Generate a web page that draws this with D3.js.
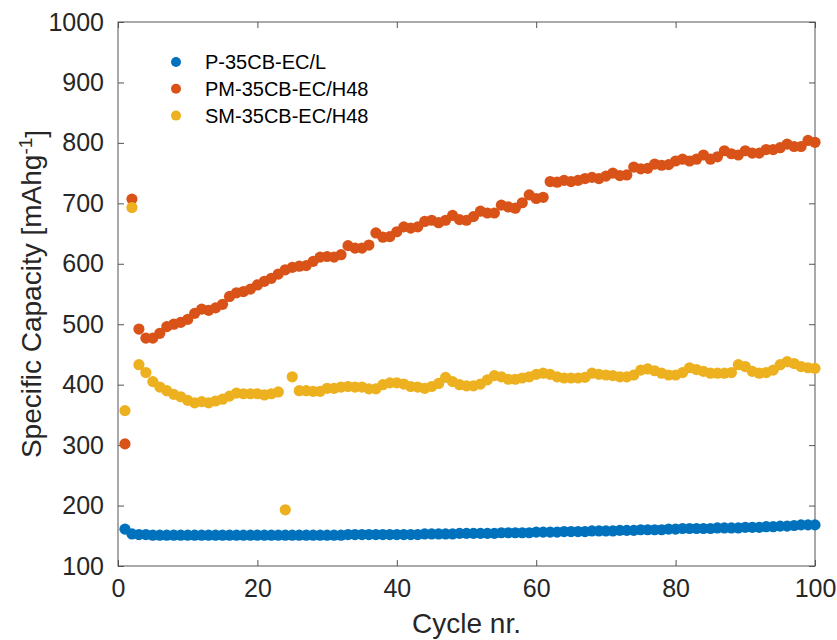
<!DOCTYPE html>
<html>
<head>
<meta charset="utf-8">
<script src="https://cdn.jsdelivr.net/npm/d3@7"></script>
<style>
  body { margin: 0; background: #fff; }
  svg { display: block; font-family: "Liberation Sans", Arial, sans-serif; }
</style>
</head>
<body>
<script>
// cycle numbers 1..100
const cycles = d3.range(1, 101);

const seriesNames = ['P-35CB-EC/L', 'PM-35CB-EC/H48', 'SM-35CB-EC/H48'];
const seriesColors = ['#0072BD', '#D95319', '#EDB120'];

const capP = [
  161, 153, 152, 152, 151, 151, 151, 151, 151, 151,
  151, 151, 151, 151, 151, 151, 151, 151, 151, 151,
  151, 151, 151, 151, 151, 151, 151, 151, 151, 151,
  151, 151, 152, 152, 152, 152, 152, 152, 152, 152,
  152, 152, 152, 153, 153, 153, 153, 153, 154, 154,
  154, 154, 154, 154, 155, 155, 155, 155, 155, 156,
  156, 156, 156, 157, 157, 157, 157, 158, 158, 158,
  158, 159, 159, 159, 160, 160, 160, 160, 161, 161,
  162, 162, 162, 162, 162, 163, 163, 163, 163, 164,
  164, 164, 165, 165, 166, 166, 167, 168, 168, 168
];

const capPM = [
  302, 707, 492, 477, 477, 485, 496, 500, 503, 508,
  518, 525, 523, 527, 533, 546, 552, 554, 558, 565,
  571, 576, 583, 590, 594, 596, 597, 604, 611, 612,
  611, 615, 630, 626, 626, 631, 651, 644, 645, 653,
  661, 659, 661, 670, 672, 668, 672, 680, 673, 672,
  678, 687, 684, 684, 697, 694, 692, 701, 714, 708,
  710, 736, 735, 738, 736, 738, 741, 743, 741, 745,
  750, 746, 747, 760, 757, 758, 765, 763, 764, 770,
  773, 770, 773, 780, 773, 777, 787, 782, 780, 787,
  783, 783, 789, 789, 792, 798, 794, 794, 804, 801
];

const capSM = [
  357, 693, 433, 420, 405, 396, 390, 384, 380, 374,
  370, 372, 370, 373, 376, 381, 386, 385, 385, 385,
  383, 385, 388, 193, 413, 390, 390, 389, 389, 394,
  394, 396, 397, 396, 396, 393, 393, 400, 403, 403,
  401, 397, 396, 394, 397, 402, 412, 405, 400, 398,
  398, 401, 408, 415, 413, 409, 409, 411, 413, 417,
  419, 417, 413, 411, 411, 411, 412, 419, 417, 416,
  415, 413, 413, 416, 424, 426, 423, 419, 416, 416,
  420, 428, 425, 422, 419, 419, 419, 420, 433, 430,
  422, 419, 420, 424, 433, 438, 435, 430, 428, 427
];

const xTicks = [0, 20, 40, 60, 80, 100];
const yTicks = [100, 200, 300, 400, 500, 600, 700, 800, 900, 1000];

const width = 837, height = 640;
const margin = { top: 22, right: 22, bottom: 74, left: 118 };
const innerW = width - margin.left - margin.right;
const innerH = height - margin.top - margin.bottom;

const svg = d3.select('body').append('svg')
  .attr('width', width)
  .attr('height', height);

const g = svg.append('g')
  .attr('transform', `translate(${margin.left},${margin.top})`);

const x = d3.scaleLinear().domain([0, 100]).range([0, innerW]);
const y = d3.scaleLinear().domain([100, 1000]).range([innerH, 0]);

const axisColor = '#555';
const tickLen = 6;
const fmt = d3.format('d');

// axes: ticks point inward, box on
function styleAxis(sel) {
  sel.select('.domain').remove();
  sel.selectAll('.tick line').attr('stroke', axisColor);
  sel.selectAll('.tick text')
    .attr('fill', '#262626')
    .style('font-size', '25px');
}

g.append('g')
  .attr('transform', `translate(0,${innerH})`)
  .call(d3.axisBottom(x).tickValues(xTicks).tickSize(-tickLen).tickPadding(13).tickFormat(fmt))
  .call(styleAxis);

g.append('g')
  .call(d3.axisTop(x).tickValues(xTicks).tickSize(-tickLen).tickFormat(''))
  .call(styleAxis);

g.append('g')
  .call(d3.axisLeft(y).tickValues(yTicks).tickSize(-tickLen).tickPadding(14).tickFormat(fmt))
  .call(styleAxis);

g.append('g')
  .attr('transform', `translate(${innerW},0)`)
  .call(d3.axisRight(y).tickValues(yTicks).tickSize(-tickLen).tickFormat(''))
  .call(styleAxis);

g.append('rect')
  .attr('width', innerW)
  .attr('height', innerH)
  .attr('fill', 'none')
  .attr('stroke', axisColor)
  .attr('stroke-width', 1);

// scatter points, drawn in series order so the yellow ends up on top
const allSeries = [capP, capPM, capSM];
allSeries.forEach((vals, i) => {
  g.append('g')
    .selectAll('circle')
    .data(vals)
    .join('circle')
    .attr('cx', (d, j) => x(cycles[j]))
    .attr('cy', d => y(d))
    .attr('r', 5.6)
    .attr('fill', seriesColors[i]);
});

// legend
const legend = g.append('g').attr('transform', 'translate(58,40)');
seriesNames.forEach((name, i) => {
  const row = legend.append('g').attr('transform', `translate(0,${i * 26.8})`);
  row.append('circle').attr('r', 5).attr('fill', seriesColors[i]);
  row.append('text')
    .attr('x', 29)
    .attr('dy', '0.35em')
    .attr('fill', '#000')
    .style('font-size', '20px')
    .text(name);
});

// axis labels
svg.append('text')
  .attr('x', margin.left + innerW / 2)
  .attr('y', height - 7)
  .attr('text-anchor', 'middle')
  .attr('fill', '#262626')
  .style('font-size', '28px')
  .text('Cycle nr.');

const yl = svg.append('text')
  .attr('transform', `translate(41,${margin.top + innerH / 2}) rotate(-90)`)
  .attr('text-anchor', 'middle')
  .attr('fill', '#262626')
  .style('font-size', '28px');
yl.append('tspan').text('Specific Capacity [mAhg');
yl.append('tspan').attr('dy', '-0.45em').style('font-size', '19px').text('-1');
yl.append('tspan').attr('dy', '0.45em').text(']');
</script>
</body>
</html>
